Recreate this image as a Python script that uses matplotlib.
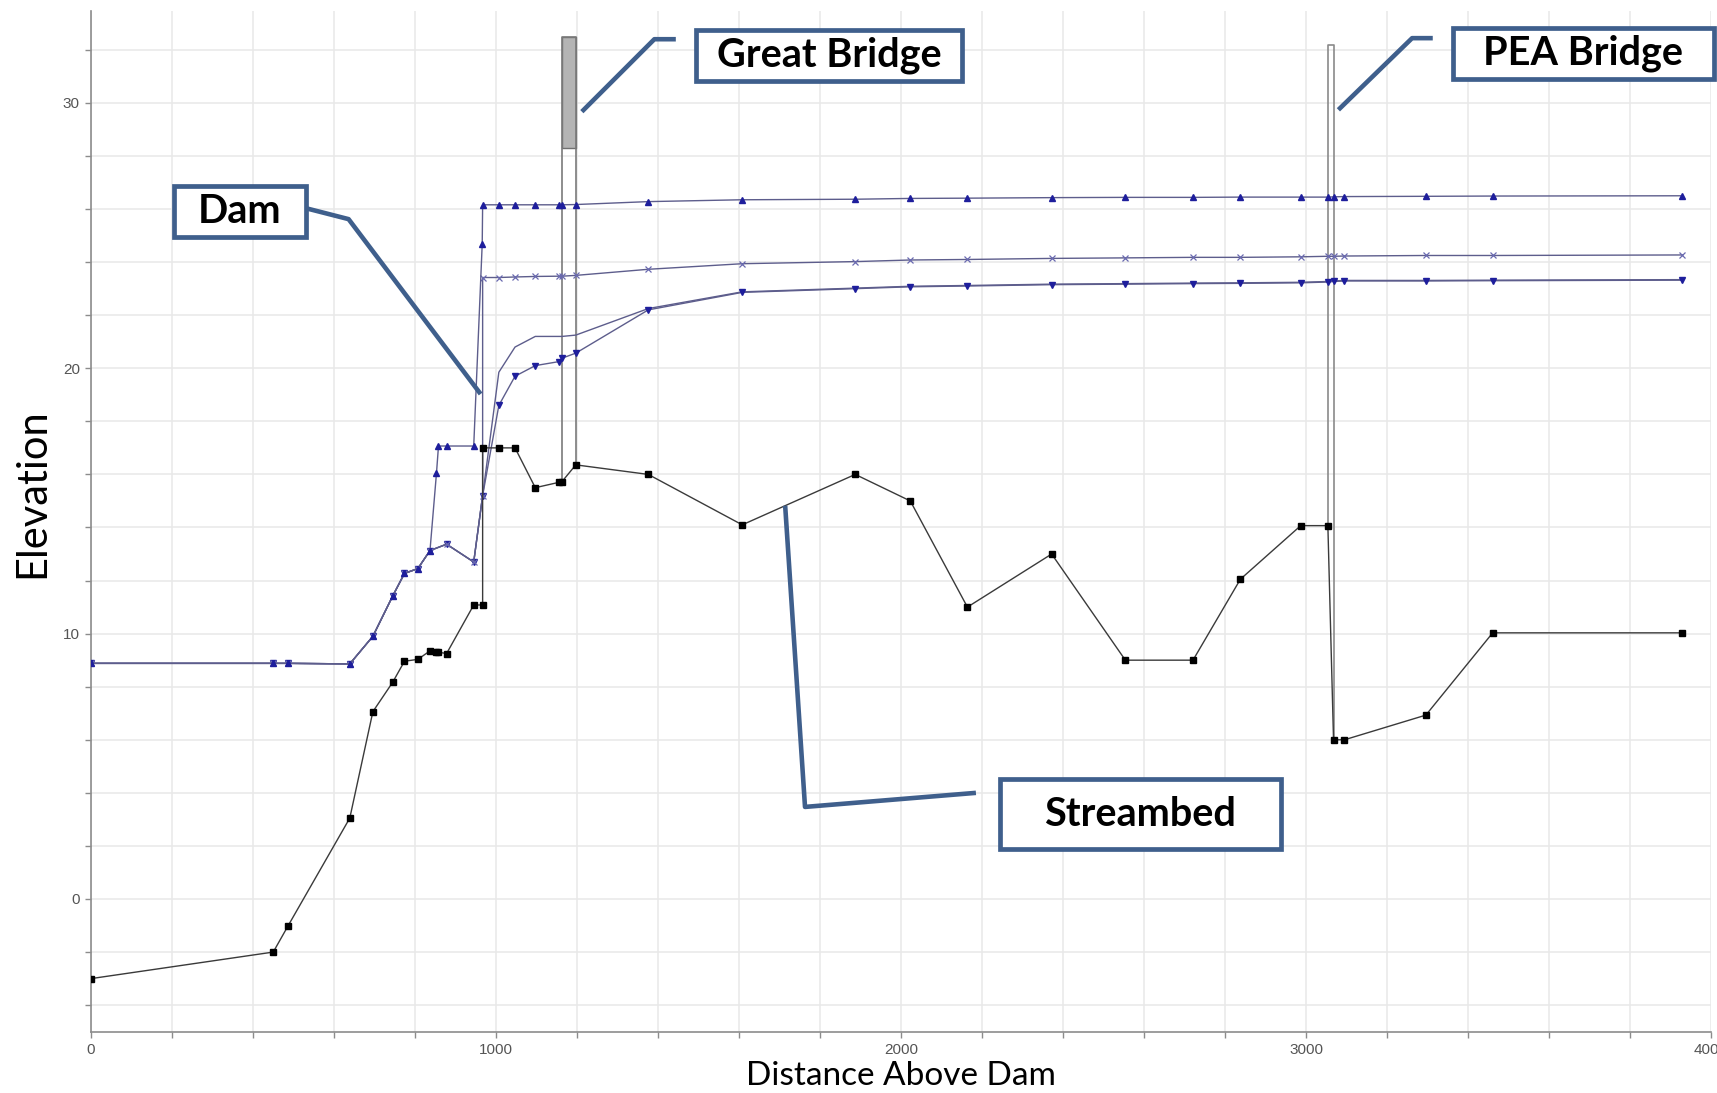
import matplotlib.pyplot as plt
from matplotlib.patches import Rectangle
from matplotlib.ticker import MultipleLocator

# River stations (distance above dam) and streambed elevation
bed_x = [0, 450, 487, 639, 696, 745, 774, 807, 837, 853, 858, 878, 945, 967, 967,
         1007, 1047, 1097, 1155, 1163, 1197, 1376, 1608, 1887, 2023, 2164, 2372,
         2554, 2721, 2838, 2987, 3054, 3068, 3095, 3296, 3461, 3929]
bed_z = [-3.0, -2.0, -1.0, 3.05, 7.06, 8.17, 8.96, 9.03, 9.35, 9.3, 9.3, 9.25, 11.08, 11.08, 17.0,
         17.0, 17.0, 15.5, 15.7, 15.73, 16.36, 16.0, 14.1, 16.0, 15.0, 11.0, 13.0,
         9.0, 9.0, 12.05, 14.07, 14.07, 6.0, 6.0, 6.93, 10.03, 10.03]

# water surface below the dam (same for every profile)
ds_x = [0, 450, 487, 639, 696, 745, 774, 807, 837]
ds_ws = [8.88, 8.88, 8.88, 8.86, 9.9, 11.42, 12.27, 12.45, 13.13]

# stations above the dam
up_x = [1007, 1047, 1097, 1155, 1163, 1197, 1376, 1608, 1887, 2023, 2164, 2372,
        2554, 2721, 2838, 2987, 3054, 3068, 3095, 3296, 3461, 3929]

# profile 1 (highest flow)
p1_x = ds_x + [853, 858, 878, 945, 966, 967] + up_x
p1_z = ds_ws + [16.04, 17.07, 17.07, 17.07, 24.7, 26.16] + \
    [26.16, 26.16, 26.16, 26.16, 26.16, 26.17, 26.28, 26.35, 26.37, 26.4, 26.41,
     26.43, 26.44, 26.44, 26.45, 26.45, 26.45, 26.46, 26.47, 26.48, 26.49, 26.5]

# profile 2
p2_x = ds_x + [878, 945, 967, 967] + up_x
p2_z = ds_ws + [13.37, 12.7, 15.2, 23.42] + \
    [23.42, 23.44, 23.46, 23.47, 23.47, 23.5, 23.73, 23.94, 24.02, 24.08, 24.1,
     24.14, 24.16, 24.18, 24.18, 24.2, 24.22, 24.22, 24.23, 24.25, 24.25, 24.27]

# profile 3
p3_x = ds_x + [878, 945, 967] + up_x
p3_z = ds_ws + [13.37, 12.7, 15.2] + \
    [18.6, 19.7, 20.1, 20.25, 20.38, 20.57, 22.2, 22.86, 23.0, 23.07, 23.1,
     23.15, 23.17, 23.19, 23.2, 23.22, 23.25, 23.27, 23.29, 23.29, 23.3, 23.32]

# profile 4 (no markers)
p4_x = ds_x + [878, 945, 967] + up_x
p4_z = ds_ws + [13.37, 12.7, 15.2] + \
    [19.85, 20.8, 21.2, 21.2, 21.2, 21.25, 22.25, 22.88, 23.02, 23.09, 23.12,
     23.17, 23.19, 23.21, 23.22, 23.24, 23.27, 23.29, 23.31, 23.31, 23.32, 23.34]

# bridges: face stations, low chord of faces, deck
great_x = [1163, 1197]
great_low = [15.73, 16.36]
great_deck = [28.3, 32.5]
pea_x = [3054, 3068]
pea_low = [14.07, 6.0]
pea_top = 32.2

fig = plt.figure(figsize=(17.17, 10.93), dpi=100)
ax = fig.add_axes([0.053, 0.0561, 0.9435, 0.934])

ax.set_xlim(0, 4000)
ax.set_ylim(-5, 33.47)
ax.xaxis.set_major_locator(MultipleLocator(1000))
ax.xaxis.set_minor_locator(MultipleLocator(200))
ax.yaxis.set_major_locator(MultipleLocator(10))
ax.yaxis.set_minor_locator(MultipleLocator(2))
ax.grid(True, which='both', color='#e8e8e8', linewidth=1.1, zorder=0)
ax.set_axisbelow(True)

for s in ['top', 'right']:
    ax.spines[s].set_visible(False)
for s in ['left', 'bottom']:
    ax.spines[s].set_color('#8c8c8c')
    ax.spines[s].set_linewidth(1.2)
ax.tick_params(which='both', direction='out', color='#8c8c8c', length=4, width=1)
ax.tick_params(which='major', labelsize=11, labelcolor='#555555', pad=4)
for lab in ax.get_xticklabels() + ax.get_yticklabels():
    lab.set_family('Liberation Sans')

# bridges
ax.fill_between(great_x, great_deck[0], great_deck[1], facecolor='#b4b4b4',
                edgecolor='#707070', linewidth=1, zorder=2)
ax.plot([great_x[0], great_x[0], great_x[1], great_x[1]],
        [great_low[0], great_deck[1], great_deck[1], great_low[1]],
        color='#7a7a7a', linewidth=1.2, zorder=2)
ax.plot([pea_x[0], pea_x[0], pea_x[1], pea_x[1]],
        [pea_low[0], pea_top, pea_top, pea_low[1]],
        color='#8a8a8a', linewidth=1.2, zorder=2)

# water surface profiles
line_col = '#5d5d8c'
mark_col = '#1e1e9c'
ax.plot(p4_x, p4_z, color=line_col, linewidth=1.0, zorder=3)
ax.plot(p3_x, p3_z, color=line_col, linewidth=1.0, marker='v', markersize=5,
        markerfacecolor=mark_col, markeredgecolor=mark_col, zorder=4)
ax.plot(p2_x, p2_z, color=line_col, linewidth=1.0, marker='x', markersize=4.5,
        markeredgewidth=0.9, markeredgecolor='#6a6ab0', zorder=4)
ax.plot(p1_x, p1_z, color=line_col, linewidth=1.0, marker='^', markersize=5,
        markerfacecolor=mark_col, markeredgecolor=mark_col, zorder=4)

# streambed
ax.plot(bed_x, bed_z, color='#3a3a3a', linewidth=1.0, marker='s', markersize=4,
        markerfacecolor='black', markeredgecolor='black', zorder=5)

ax.set_xlabel('Distance Above Dam', fontsize=24, family='Lato')
ax.set_ylabel('Elevation', fontsize=30, family='Lato')
ax.xaxis.label.set_va('center')
ax.yaxis.label.set_va('center')
ax.xaxis.set_label_coords(0.5, -0.0434)
ax.yaxis.set_label_coords(-0.036, 0.528)

# callout boxes with leader lines
edge = '#3f5f8c'
callouts = [
    ('Dam', (205, 531, 24.93, 26.85), [531, 636, 962], [26.03, 25.62, 19.03]),
    ('Great Bridge', (1495, 2151, 30.83, 32.75), [1212, 1391, 1444], [29.67, 32.4, 32.4]),
    ('PEA Bridge', (3363, 4007, 30.9, 32.82), [3080, 3262, 3313], [29.74, 32.44, 32.44]),
    ('Streambed', (2244, 2938, 1.87, 4.52), [2185, 1763, 1714], [4.0, 3.47, 14.82]),
]
for text, (x0, x1, y0, y1), lx, ly in callouts:
    ax.plot(lx, ly, color=edge, linewidth=3.3, solid_capstyle='butt',
            clip_on=False, zorder=8)
    ax.add_patch(Rectangle((x0, y0), x1 - x0, y1 - y0, facecolor='white',
                           edgecolor=edge, linewidth=3.4, clip_on=False, zorder=9))
    ax.text((x0 + x1) / 2, (y0 + y1) / 2, text, ha='center', va='center',
            fontsize=28.5, fontweight='bold', family='Lato', zorder=10)

fig.savefig('out.png', dpi=100)
